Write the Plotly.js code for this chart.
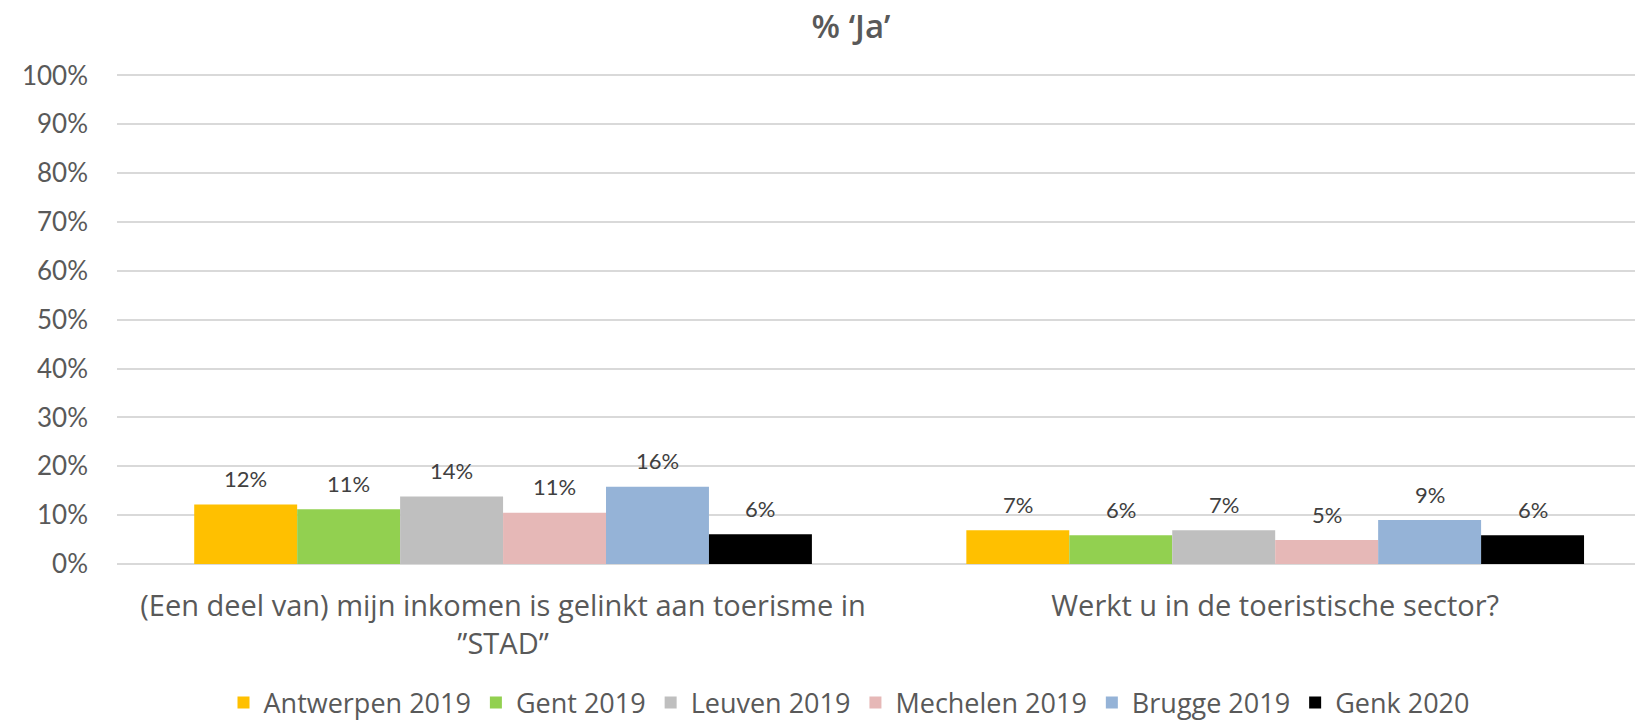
<!DOCTYPE html>
<html>
<head>
<meta charset="utf-8">
<script src="https://cdn.plot.ly/plotly-3.0.1.min.js"></script>
<style>html,body{margin:0;padding:0;background:#fff;}#chart{width:1635px;height:724px;}</style>
</head>
<body>
<div id="chart"></div>
<script>
const categories = ["(Een deel van) mijn inkomen is gelinkt aan toerisme in<br>”STAD”", "Werkt u in de toeristische sector?"];
const seriesNames = ["Antwerpen 2019", "Gent 2019", "Leuven 2019", "Mechelen 2019", "Brugge 2019", "Genk 2020"];
const antwerpen = [0.122, 0.069];
const gent = [0.112, 0.059];
const leuven = [0.138, 0.069];
const mechelen = [0.105, 0.049];
const brugge = [0.158, 0.090];
const genk = [0.061, 0.059];
const yTickVals = [0, 0.1, 0.2, 0.3, 0.4, 0.5, 0.6, 0.7, 0.8, 0.9, 1.0];

const seriesValues = [antwerpen, gent, leuven, mechelen, brugge, genk];
const colors = ["#FFC000", "#92D050", "#BFBFBF", "#E6B8B7", "#95B3D7", "#000000"];
const FONT = "Lato, 'Open Sans', sans-serif";
const FONT2 = "'Open Sans', Lato, sans-serif";
const TXT = "#595959";
const bargap = 0.2;
const nS = seriesValues.length;
const bw = (1 - bargap) / nS;

const traces = seriesValues.map((vals, j) => ({
  type: "bar",
  name: seriesNames[j],
  x: categories,
  y: vals,
  marker: {color: colors[j], line: {width: 0}},
  hoverinfo: "skip"
}));

const annotations = [];
seriesValues.forEach((vals, j) => {
  vals.forEach((v, i) => {
    annotations.push({
      x: i + (j - (nS - 1) / 2) * bw,
      y: v,
      xref: "x", yref: "y",
      text: Math.round(v * 100) + "%",
      showarrow: false,
      yanchor: "middle",
      yshift: 26,
      font: {family: FONT, size: 22, color: "#404040"}
    });
  });
});

const layout = {
  width: 1635, height: 724,
  margin: {l: 117, r: 0, t: 74, b: 160, autoexpand: false},
  paper_bgcolor: "#fff", plot_bgcolor: "#fff",
  barmode: "group",
  bargap: bargap,
  bargroupgap: 0,
  title: {
    text: "% ‘Ja’",
    x: 851 / 1635, xanchor: "center", xref: "container",
    y: 1 - 26 / 724, yanchor: "middle", yref: "container",
    font: {family: FONT2, size: 33, color: TXT, weight: 600}
  },
  xaxis: {
    type: "category",
    range: [-0.5, 1.466],
    showgrid: false, zeroline: false, showline: false, ticks: "",
    tickangle: 0,
    automargin: false,
    ticklabelstandoff: 22,
    tickfont: {family: FONT2, size: 29, color: TXT}
  },
  yaxis: {
    range: [0, 1.003],
    tickvals: yTickVals,
    tickformat: ".0%",
    showgrid: true, gridcolor: "#D9D9D9", gridwidth: 2,
    zeroline: true, zerolinecolor: "#D9D9D9", zerolinewidth: 2,
    showline: false, ticks: "",
    automargin: false,
    ticklabelstandoff: 28,
    tickfont: {family: FONT, size: 26, color: TXT}
  },
  showlegend: true,
  legend: {
    orientation: "h",
    x: (849 - 117) / 1518, xref: "paper", xanchor: "center",
    y: (564 - 703) / 490, yanchor: "middle",
    font: {family: FONT2, size: 27, color: TXT},
    itemwidth: 30,
    traceorder: "normal"
  },
  annotations: annotations
};

Plotly.newPlot("chart", traces, layout, {staticPlot: true, displayModeBar: false});
</script>
</body>
</html>
